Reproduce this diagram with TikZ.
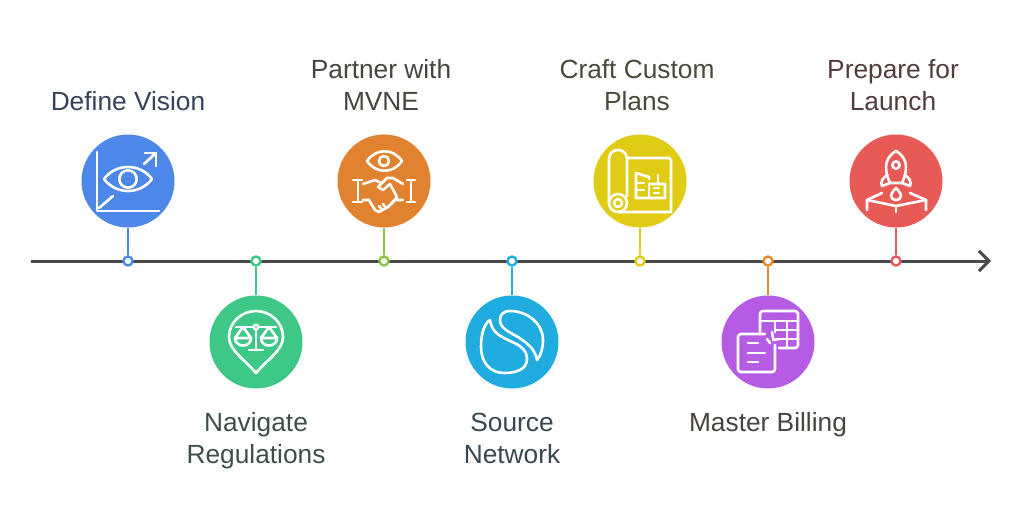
\documentclass[tikz,border=0pt]{standalone}
\usepackage{fontspec}
\setmainfont{Liberation Sans}
\usetikzlibrary{arrows.meta,positioning,calc}
\definecolor{cA}{HTML}{4D88E8}
\definecolor{cB}{HTML}{3EC787}
\definecolor{cC}{HTML}{E08230}
\definecolor{cD}{HTML}{20ACDF}
\definecolor{cE}{HTML}{E0CC15}
\definecolor{cF}{HTML}{B65CE4}
\definecolor{cG}{HTML}{E85A55}
\definecolor{sC}{HTML}{8DC53E}
\definecolor{sF}{HTML}{E58A2E}
\definecolor{axis}{HTML}{4A4A4A}
\definecolor{tA}{HTML}{34435A}
\definecolor{tB}{HTML}{3D4F49}
\definecolor{tC}{HTML}{48443F}
\definecolor{tD}{HTML}{384850}
\definecolor{tE}{HTML}{4A4A38}
\definecolor{tF}{HTML}{494340}
\definecolor{tG}{HTML}{533C3C}

\begin{document}
\begin{tikzpicture}
[x=1pt,y=-1pt,
V/.style={circle,inner sep=0pt,minimum size=93pt},
D/.style={circle,draw,fill=white,inner sep=0pt,line width=2.4pt,minimum size=9pt},
L/.style={align=center,inner sep=0pt,font=\fontsize{26.3}{32}\selectfont},
stem/.style={line width=2.5pt},
icon/.style={white,line width=2.6pt,line cap=round,line join=round}]
%%
\useasboundingbox (0,0) rectangle (1024,511);
\fill[white] (0,0) rectangle (1024,511);
%%
%%%%%%%%%%%%%%%%%%
% axis
%%%%%%%%%%%%%%%%%%
\coordinate (start) at (31,261);
\coordinate (end) at (991,261);
\draw[axis,line width=3pt,-{Straight Barb[length=10pt,width=20pt,line width=3pt]}] (start) -- (end);
%%
%%%%%%%%%%%%%%%%%%
% Define Vision
%%%%%%%%%%%%%%%%%%
\node[V,fill=cA] (v1) at (128,181) {};
\node[D,draw=cA] (d1) at (128,261) {};
\draw[stem,cA] (v1) -- (d1);
\node[L,text=tA] (t1) at (128,101) {Define Vision};
\begin{scope}[xshift=128pt,yshift=-181pt,icon]
\draw (-31,-29) -- (-31,30) -- (31,30);
\draw (-29,27) -- (-15,15);
\draw (16,-17) -- (28,-28);
\draw (17,-28) -- (28,-28) -- (28,-15);
\draw (-24,-2) .. controls (-12,-18) and (12,-18) .. (24,-2) .. controls (12,14) and (-12,14) .. cycle;
\draw (0,-2) circle[radius=8.7];
\end{scope}
%%
%%%%%%%%%%%%%%%%%%
% Navigate Regulations
%%%%%%%%%%%%%%%%%%
\node[V,fill=cB] (v2) at (256,342) {};
\node[D,draw=cB] (d2) at (256,261) {};
\draw[stem,cB] (v2) -- (d2);
\node[L,text=tB] (t2) at (256,441) {Navigate\\Regulations};
\begin{scope}[xshift=256pt,yshift=-342pt,icon]
\draw (0,31) .. controls (-12,17) and (-27,8) .. (-27,-5) .. controls (-27,-20) and (-14,-31) .. (0,-31) .. controls (14,-31) and (27,-20) .. (27,-5) .. controls (27,8) and (12,17) .. cycle;
\draw (-20,-15) -- (-2.5,-15);
\draw (2.5,-15) -- (20,-15);
\draw (0,-15) circle[radius=2.3];
\draw (0,-12.5) -- (0,8);
\draw (-7,8) -- (7,8);
\draw (-21,-4) -- (-13,-15) -- (-5,-4);
\draw (5,-4) -- (13,-15) -- (21,-4);
\draw (-21,-4) -- (-5,-4) .. controls (-5,6) and (-21,6) .. cycle;
\draw (5,-4) -- (21,-4) .. controls (21,6) and (5,6) .. cycle;
\end{scope}
%%
%%%%%%%%%%%%%%%%%%
% Partner with MVNE
%%%%%%%%%%%%%%%%%%
\node[V,fill=cC] (v3) at (384,181) {};
\node[D,draw=sC] (d3) at (384,261) {};
\draw[stem,sC] (v3) -- (d3);
\node[L,text=tC] (t3) at (381,85) {Partner with\\MVNE};
\begin{scope}[xshift=384pt,yshift=-181pt,icon]
\draw (-17,-20) .. controls (-8,-33) and (9,-33) .. (18,-20) .. controls (9,-7) and (-8,-7) .. cycle;
\draw (0,-20) circle[radius=5];
%% cuffs
\draw (-31,-1) -- (-22,-1);
\draw (-26,-1) -- (-26,21);
\draw (-31,21) -- (-22,21);
\draw (23,-1) -- (31,-1);
\draw (27,-1) -- (27,21);
\draw (23,21) -- (31,21);
%% hands
\draw (-21,3) -- (-9,-1) -- (-3,2);
\draw (-21,19) -- (-15,19) -- (-9,29) -- (-5,31) -- (4,26) -- (11,19) -- (19,19);
\draw (19,3) -- (9,-3) -- (3,-3) -- (-6,6) -- (-1,9) -- (6,3) -- (13,16) -- (7,23);
\draw (-2,29) -- (-5,25);
\draw (2,27) -- (-1,23);
\end{scope}
%%
%%%%%%%%%%%%%%%%%%
% Source Network
%%%%%%%%%%%%%%%%%%
\node[V,fill=cD] (v4) at (512,342) {};
\node[D,draw=cD] (d4) at (512,261) {};
\draw[stem,cD] (v4) -- (d4);
\node[L,text=tD] (t4) at (512,438) {Source\\Network};
\begin{scope}[xshift=512pt,yshift=-342pt,icon]
\draw (-22,-22) .. controls (-20,-10) and (-14,-7) .. (-2,-1) .. controls (8,3) and (15,8) .. (15,17) .. controls (15,27) and (5,31) .. (-8,31) .. controls (-22,31) and (-31,20) .. (-31,5) .. controls (-31,-8) and (-28,-18) .. cycle;
\draw (25,18) .. controls (23,8) and (18,3) .. (6,-5) .. controls (-3,-10) and (-12,-14) .. (-12,-22) .. controls (-12,-28) and (-8,-31) .. (-2,-31) .. controls (16,-31) and (31,-18) .. (31,-2) .. controls (31,6) and (29,13) .. cycle;
\end{scope}
%%
%%%%%%%%%%%%%%%%%%
% Craft Custom Plans
%%%%%%%%%%%%%%%%%%
\node[V,fill=cE] (v5) at (640,181) {};
\node[D,draw=cE] (d5) at (640,261) {};
\draw[stem,cE] (v5) -- (d5);
\node[L,text=tE] (t5) at (637,85) {Craft Custom\\Plans};
\begin{scope}[xshift=640pt,yshift=-181pt,icon]
\draw (-31,22) -- (-31,-22) .. controls (-31,-34) and (-13,-34) .. (-13,-22) -- (-13,15);
\draw (-22,22) circle[radius=9];
\draw (-22,22) circle[radius=4];
\draw (-13,-23) -- (29,-23) -- (31,-21) -- (31,31) -- (-22,31);
%% buildings
\draw (9,-2) -- (9,-4) -- (-4,-8) -- (-4,17) -- (25,17) -- (25,3) -- (9,3);
\draw (-4,2) -- (4,2);
\draw (-4,9) -- (4,9);
\draw (14,7) -- (19,7);
\draw (14,12) -- (19,12);
\draw (9,3) -- (9,17);
\draw (18,-6) -- (18,3);
\end{scope}
%%
%%%%%%%%%%%%%%%%%%
% Master Billing
%%%%%%%%%%%%%%%%%%
\node[V,fill=cF] (v6) at (768,342) {};
\node[D,draw=sF] (d6) at (768,261) {};
\draw[stem,sF] (v6) -- (d6);
\node[L,text=tF] (t6) at (768,425) {Master Billing};
\begin{scope}[xshift=768pt,yshift=-342pt,icon]
%% sheet
\draw[rounded corners=3pt] (-8,-10) -- (-8,-31) -- (30,-31) -- (30,6) -- (11,6);
\draw (-8,-21) -- (30,-21);
\draw (7,-21) -- (7,-10);
\draw (19,-21) -- (19,6);
\draw (7,-12) -- (30,-12);
\draw (11,-3) -- (30,-3);
%% note
\draw[rounded corners=3pt] (-3,-8) -- (-30,-8) -- (-30,30) -- (7,30) -- (7,3);
\draw (-1,-3) -- (2,1);
\draw (4,-10) -- (5,-4);
\draw (11,-3) -- (5,-2);
\draw (-20,1) -- (-10,1);
\draw (-20,11) -- (-3,11);
\draw (-20,20) -- (-10,20);
\end{scope}
%%
%%%%%%%%%%%%%%%%%%
% Prepare for Launch
%%%%%%%%%%%%%%%%%%
\node[V,fill=cG] (v7) at (896,181) {};
\node[D,draw=cG] (d7) at (896,261) {};
\draw[stem,cG] (v7) -- (d7);
\node[L,text=tG] (t7) at (893,85) {Prepare for\\Launch};
\begin{scope}[xshift=896pt,yshift=-181pt,icon]
%% rocket
\draw (0,-30) .. controls (-7,-26) and (-10,-20) .. (-10,-14) .. controls (-10,-8) and (-8,-2) .. (-6,2) -- (6,2) .. controls (8,-2) and (10,-8) .. (10,-14) .. controls (10,-20) and (7,-26) .. cycle;
\draw (0,-16) circle[radius=3.6];
\draw (-8.5,-6) .. controls (-13,-4) and (-16,1) .. (-14,5) -- (-6,2);
\draw (8.5,-6) .. controls (13,-4) and (16,1) .. (14,5) -- (6,2);
%% flame
\draw (0,7) .. controls (-3,10) and (-5,13) .. (-5,15) .. controls (-5,18) and (-2,19) .. (0,19) .. controls (2,19) and (5,18) .. (5,15) .. controls (5,13) and (3,10) .. cycle;
%% platform
\draw (-14,12) -- (-29,19) -- (-29,29);
\draw (-29,19) -- (0,25) -- (30,19) -- (30,29);
\draw (30,19) -- (14,12);
\draw (0,25) -- (0,31);
\end{scope}
%%
\end{tikzpicture}
\end{document}
